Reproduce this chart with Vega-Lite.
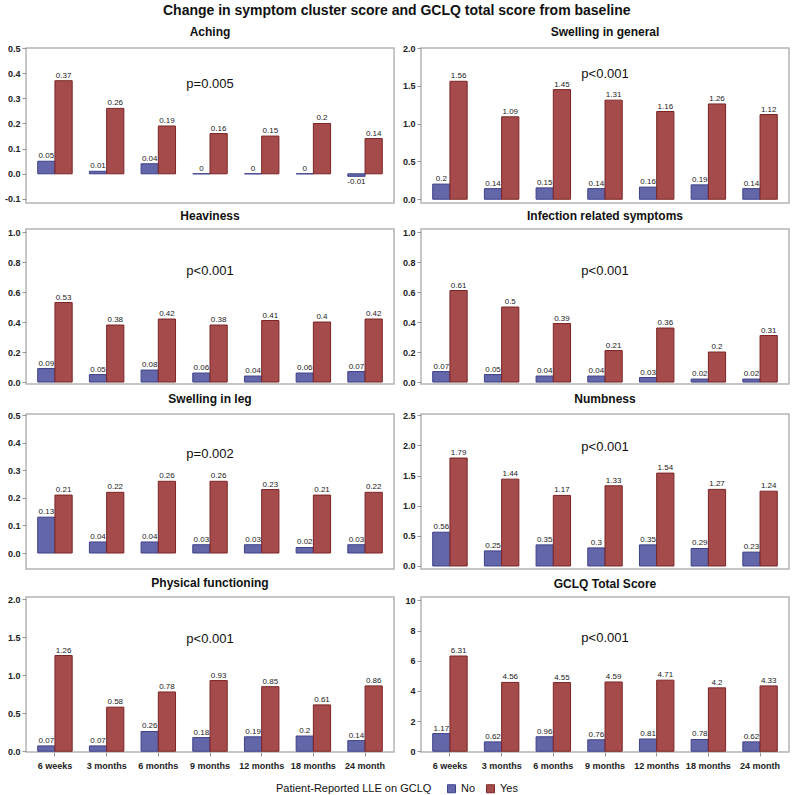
{
"$schema": "https://vega.github.io/schema/vega-lite/v6.json",
"padding": {"left": 3, "top": 4, "right": 8, "bottom": 2},
"background": "white",
"title": {"text": "Change in symptom cluster score and GCLQ total score from baseline", "fontSize": 14, "anchor": "middle", "offset": 7},
"datasets": {
"d": [
{"panel":"Aching","time":"6 weeks","group":"No","value":0.05},{"panel":"Aching","time":"6 weeks","group":"Yes","value":0.37},
{"panel":"Aching","time":"3 months","group":"No","value":0.01},{"panel":"Aching","time":"3 months","group":"Yes","value":0.26},
{"panel":"Aching","time":"6 months","group":"No","value":0.04},{"panel":"Aching","time":"6 months","group":"Yes","value":0.19},
{"panel":"Aching","time":"9 months","group":"No","value":0},{"panel":"Aching","time":"9 months","group":"Yes","value":0.16},
{"panel":"Aching","time":"12 months","group":"No","value":0},{"panel":"Aching","time":"12 months","group":"Yes","value":0.15},
{"panel":"Aching","time":"18 months","group":"No","value":0},{"panel":"Aching","time":"18 months","group":"Yes","value":0.2},
{"panel":"Aching","time":"24 month","group":"No","value":-0.01},{"panel":"Aching","time":"24 month","group":"Yes","value":0.14},
{"panel":"Swelling in general","time":"6 weeks","group":"No","value":0.2},{"panel":"Swelling in general","time":"6 weeks","group":"Yes","value":1.56},
{"panel":"Swelling in general","time":"3 months","group":"No","value":0.14},{"panel":"Swelling in general","time":"3 months","group":"Yes","value":1.09},
{"panel":"Swelling in general","time":"6 months","group":"No","value":0.15},{"panel":"Swelling in general","time":"6 months","group":"Yes","value":1.45},
{"panel":"Swelling in general","time":"9 months","group":"No","value":0.14},{"panel":"Swelling in general","time":"9 months","group":"Yes","value":1.31},
{"panel":"Swelling in general","time":"12 months","group":"No","value":0.16},{"panel":"Swelling in general","time":"12 months","group":"Yes","value":1.16},
{"panel":"Swelling in general","time":"18 months","group":"No","value":0.19},{"panel":"Swelling in general","time":"18 months","group":"Yes","value":1.26},
{"panel":"Swelling in general","time":"24 month","group":"No","value":0.14},{"panel":"Swelling in general","time":"24 month","group":"Yes","value":1.12},
{"panel":"Heaviness","time":"6 weeks","group":"No","value":0.09},{"panel":"Heaviness","time":"6 weeks","group":"Yes","value":0.53},
{"panel":"Heaviness","time":"3 months","group":"No","value":0.05},{"panel":"Heaviness","time":"3 months","group":"Yes","value":0.38},
{"panel":"Heaviness","time":"6 months","group":"No","value":0.08},{"panel":"Heaviness","time":"6 months","group":"Yes","value":0.42},
{"panel":"Heaviness","time":"9 months","group":"No","value":0.06},{"panel":"Heaviness","time":"9 months","group":"Yes","value":0.38},
{"panel":"Heaviness","time":"12 months","group":"No","value":0.04},{"panel":"Heaviness","time":"12 months","group":"Yes","value":0.41},
{"panel":"Heaviness","time":"18 months","group":"No","value":0.06},{"panel":"Heaviness","time":"18 months","group":"Yes","value":0.4},
{"panel":"Heaviness","time":"24 month","group":"No","value":0.07},{"panel":"Heaviness","time":"24 month","group":"Yes","value":0.42},
{"panel":"Infection related symptoms","time":"6 weeks","group":"No","value":0.07},{"panel":"Infection related symptoms","time":"6 weeks","group":"Yes","value":0.61},
{"panel":"Infection related symptoms","time":"3 months","group":"No","value":0.05},{"panel":"Infection related symptoms","time":"3 months","group":"Yes","value":0.5},
{"panel":"Infection related symptoms","time":"6 months","group":"No","value":0.04},{"panel":"Infection related symptoms","time":"6 months","group":"Yes","value":0.39},
{"panel":"Infection related symptoms","time":"9 months","group":"No","value":0.04},{"panel":"Infection related symptoms","time":"9 months","group":"Yes","value":0.21},
{"panel":"Infection related symptoms","time":"12 months","group":"No","value":0.03},{"panel":"Infection related symptoms","time":"12 months","group":"Yes","value":0.36},
{"panel":"Infection related symptoms","time":"18 months","group":"No","value":0.02},{"panel":"Infection related symptoms","time":"18 months","group":"Yes","value":0.2},
{"panel":"Infection related symptoms","time":"24 month","group":"No","value":0.02},{"panel":"Infection related symptoms","time":"24 month","group":"Yes","value":0.31},
{"panel":"Swelling in leg","time":"6 weeks","group":"No","value":0.13},{"panel":"Swelling in leg","time":"6 weeks","group":"Yes","value":0.21},
{"panel":"Swelling in leg","time":"3 months","group":"No","value":0.04},{"panel":"Swelling in leg","time":"3 months","group":"Yes","value":0.22},
{"panel":"Swelling in leg","time":"6 months","group":"No","value":0.04},{"panel":"Swelling in leg","time":"6 months","group":"Yes","value":0.26},
{"panel":"Swelling in leg","time":"9 months","group":"No","value":0.03},{"panel":"Swelling in leg","time":"9 months","group":"Yes","value":0.26},
{"panel":"Swelling in leg","time":"12 months","group":"No","value":0.03},{"panel":"Swelling in leg","time":"12 months","group":"Yes","value":0.23},
{"panel":"Swelling in leg","time":"18 months","group":"No","value":0.02},{"panel":"Swelling in leg","time":"18 months","group":"Yes","value":0.21},
{"panel":"Swelling in leg","time":"24 month","group":"No","value":0.03},{"panel":"Swelling in leg","time":"24 month","group":"Yes","value":0.22},
{"panel":"Numbness","time":"6 weeks","group":"No","value":0.56},{"panel":"Numbness","time":"6 weeks","group":"Yes","value":1.79},
{"panel":"Numbness","time":"3 months","group":"No","value":0.25},{"panel":"Numbness","time":"3 months","group":"Yes","value":1.44},
{"panel":"Numbness","time":"6 months","group":"No","value":0.35},{"panel":"Numbness","time":"6 months","group":"Yes","value":1.17},
{"panel":"Numbness","time":"9 months","group":"No","value":0.3},{"panel":"Numbness","time":"9 months","group":"Yes","value":1.33},
{"panel":"Numbness","time":"12 months","group":"No","value":0.35},{"panel":"Numbness","time":"12 months","group":"Yes","value":1.54},
{"panel":"Numbness","time":"18 months","group":"No","value":0.29},{"panel":"Numbness","time":"18 months","group":"Yes","value":1.27},
{"panel":"Numbness","time":"24 month","group":"No","value":0.23},{"panel":"Numbness","time":"24 month","group":"Yes","value":1.24},
{"panel":"Physical functioning","time":"6 weeks","group":"No","value":0.07},{"panel":"Physical functioning","time":"6 weeks","group":"Yes","value":1.26},
{"panel":"Physical functioning","time":"3 months","group":"No","value":0.07},{"panel":"Physical functioning","time":"3 months","group":"Yes","value":0.58},
{"panel":"Physical functioning","time":"6 months","group":"No","value":0.26},{"panel":"Physical functioning","time":"6 months","group":"Yes","value":0.78},
{"panel":"Physical functioning","time":"9 months","group":"No","value":0.18},{"panel":"Physical functioning","time":"9 months","group":"Yes","value":0.93},
{"panel":"Physical functioning","time":"12 months","group":"No","value":0.19},{"panel":"Physical functioning","time":"12 months","group":"Yes","value":0.85},
{"panel":"Physical functioning","time":"18 months","group":"No","value":0.2},{"panel":"Physical functioning","time":"18 months","group":"Yes","value":0.61},
{"panel":"Physical functioning","time":"24 month","group":"No","value":0.14},{"panel":"Physical functioning","time":"24 month","group":"Yes","value":0.86},
{"panel":"GCLQ Total Score","time":"6 weeks","group":"No","value":1.17},{"panel":"GCLQ Total Score","time":"6 weeks","group":"Yes","value":6.31},
{"panel":"GCLQ Total Score","time":"3 months","group":"No","value":0.62},{"panel":"GCLQ Total Score","time":"3 months","group":"Yes","value":4.56},
{"panel":"GCLQ Total Score","time":"6 months","group":"No","value":0.96},{"panel":"GCLQ Total Score","time":"6 months","group":"Yes","value":4.55},
{"panel":"GCLQ Total Score","time":"9 months","group":"No","value":0.76},{"panel":"GCLQ Total Score","time":"9 months","group":"Yes","value":4.59},
{"panel":"GCLQ Total Score","time":"12 months","group":"No","value":0.81},{"panel":"GCLQ Total Score","time":"12 months","group":"Yes","value":4.71},
{"panel":"GCLQ Total Score","time":"18 months","group":"No","value":0.78},{"panel":"GCLQ Total Score","time":"18 months","group":"Yes","value":4.2},
{"panel":"GCLQ Total Score","time":"24 month","group":"No","value":0.62},{"panel":"GCLQ Total Score","time":"24 month","group":"Yes","value":4.33}
],
"p": [
{"panel":"Aching","p":"p=0.005"},
{"panel":"Swelling in general","p":"p<0.001"},
{"panel":"Heaviness","p":"p<0.001"},
{"panel":"Infection related symptoms","p":"p<0.001"},
{"panel":"Swelling in leg","p":"p=0.002"},
{"panel":"Numbness","p":"p<0.001"},
{"panel":"Physical functioning","p":"p<0.001"},
{"panel":"GCLQ Total Score","p":"p<0.001"}
]
},
"columns": 2,
"spacing": {"row": 4, "column": 6},
"concat": [
{
"title": "Aching", "width": 368, "height": 155,
"layer": [
{"mark": {"type": "rule", "color": "#b0b0b0"}, "encoding": {"y": {"datum": 0, "type": "quantitative"}}},
{"data": {"name": "d"}, "transform": [{"filter": "datum.panel === 'Aching'"}],
 "mark": {"type": "bar", "strokeWidth": 1},
 "encoding": {
  "x": {"field": "time", "type": "nominal", "sort": ["6 weeks","3 months","6 months","9 months","12 months","18 months","24 month"], "scale": {"paddingInner": 0, "paddingOuter": 0.06}, "axis": null},
  "xOffset": {"field": "group", "type": "nominal", "scale": {"paddingInner": 0, "paddingOuter": 0.5}},
  "y": {"field": "value", "type": "quantitative", "scale": {"domain": [-0.116, 0.5], "nice": false, "zero": false}, "axis": {"title": null, "tickCount": 20, "labelOverlap": false, "values": [-0.1,0,0.1,0.2,0.3,0.4,0.5], "labelExpr": "datum.value < -0.001 ? '-' + format(-datum.value, '.1f') : format(datum.value, '.1f')"}},
  "fill": {"field": "group", "type": "nominal", "scale": {"domain": ["No","Yes"], "range": ["#6366a8","#a54b4b"]}, "legend": {"title": "Patient-Reported LLE on GCLQ"}},
  "stroke": {"field": "group", "type": "nominal", "scale": {"domain": ["No","Yes"], "range": ["#3e418a","#7d2424"]}, "legend": null}
 }},
{"data": {"name": "d"}, "transform": [{"filter": "datum.panel === 'Aching' && datum.value >= 0"}],
 "mark": {"type": "text", "baseline": "bottom", "dy": -1, "fontSize": 8, "color": "#222"},
 "encoding": {
  "x": {"field": "time", "type": "nominal", "sort": ["6 weeks","3 months","6 months","9 months","12 months","18 months","24 month"]},
  "xOffset": {"field": "group", "type": "nominal"},
  "y": {"field": "value", "type": "quantitative"},
  "text": {"field": "value", "type": "nominal"}
 }},
{"data": {"name": "d"}, "transform": [{"filter": "datum.panel === 'Aching' && datum.value < 0"}],
 "mark": {"type": "text", "baseline": "top", "dy": 2, "fontSize": 8, "color": "#222"},
 "encoding": {
  "x": {"field": "time", "type": "nominal", "sort": ["6 weeks","3 months","6 months","9 months","12 months","18 months","24 month"]},
  "xOffset": {"field": "group", "type": "nominal"},
  "y": {"field": "value", "type": "quantitative"},
  "text": {"field": "value", "type": "nominal"}
 }},
{"data": {"name": "p"}, "transform": [{"filter": "datum.panel === 'Aching'"}],
 "mark": {"type": "text", "fontSize": 13, "baseline": "middle", "color": "#111"},
 "encoding": {"x": {"datum": "9 months"}, "y": {"datum": 0.355}, "text": {"field": "p"}}}
]
},
{
"title": "Swelling in general", "width": 368, "height": 155,
"layer": [
{"mark": {"type": "rule", "color": "#b0b0b0"}, "encoding": {"y": {"datum": 0, "type": "quantitative"}}},
{"data": {"name": "d"}, "transform": [{"filter": "datum.panel === 'Swelling in general'"}],
 "mark": {"type": "bar", "strokeWidth": 1},
 "encoding": {
  "x": {"field": "time", "type": "nominal", "sort": ["6 weeks","3 months","6 months","9 months","12 months","18 months","24 month"], "scale": {"paddingInner": 0, "paddingOuter": 0.06}, "axis": null},
  "xOffset": {"field": "group", "type": "nominal", "scale": {"paddingInner": 0, "paddingOuter": 0.5}},
  "y": {"field": "value", "type": "quantitative", "scale": {"domain": [-0.05, 2.0], "nice": false, "zero": false}, "axis": {"title": null, "tickCount": 20, "labelOverlap": false, "values": [0,0.5,1,1.5,2], "format": ".1f"}},
  "fill": {"field": "group", "type": "nominal", "scale": {"domain": ["No","Yes"], "range": ["#6366a8","#a54b4b"]}, "legend": {"title": "Patient-Reported LLE on GCLQ"}},
  "stroke": {"field": "group", "type": "nominal", "scale": {"domain": ["No","Yes"], "range": ["#3e418a","#7d2424"]}, "legend": null}
 }},
{"data": {"name": "d"}, "transform": [{"filter": "datum.panel === 'Swelling in general'"}],
 "mark": {"type": "text", "baseline": "bottom", "dy": -1, "fontSize": 8, "color": "#222"},
 "encoding": {
  "x": {"field": "time", "type": "nominal", "sort": ["6 weeks","3 months","6 months","9 months","12 months","18 months","24 month"]},
  "xOffset": {"field": "group", "type": "nominal"},
  "y": {"field": "value", "type": "quantitative"},
  "text": {"field": "value", "type": "nominal"}
 }},
{"data": {"name": "p"}, "transform": [{"filter": "datum.panel === 'Swelling in general'"}],
 "mark": {"type": "text", "fontSize": 13, "baseline": "middle", "color": "#111"},
 "encoding": {"x": {"datum": "9 months"}, "y": {"datum": 1.66}, "text": {"field": "p"}}}
]
},
{
"title": "Heaviness", "width": 368, "height": 155,
"layer": [
{"mark": {"type": "rule", "color": "#b0b0b0"}, "encoding": {"y": {"datum": 0, "type": "quantitative"}}},
{"data": {"name": "d"}, "transform": [{"filter": "datum.panel === 'Heaviness'"}],
 "mark": {"type": "bar", "strokeWidth": 1},
 "encoding": {
  "x": {"field": "time", "type": "nominal", "sort": ["6 weeks","3 months","6 months","9 months","12 months","18 months","24 month"], "scale": {"paddingInner": 0, "paddingOuter": 0.06}, "axis": null},
  "xOffset": {"field": "group", "type": "nominal", "scale": {"paddingInner": 0, "paddingOuter": 0.5}},
  "y": {"field": "value", "type": "quantitative", "scale": {"domain": [-0.013, 1.02], "nice": false, "zero": false}, "axis": {"title": null, "tickCount": 20, "labelOverlap": false, "values": [0,0.2,0.4,0.6,0.8,1], "format": ".1f"}},
  "fill": {"field": "group", "type": "nominal", "scale": {"domain": ["No","Yes"], "range": ["#6366a8","#a54b4b"]}, "legend": {"title": "Patient-Reported LLE on GCLQ"}},
  "stroke": {"field": "group", "type": "nominal", "scale": {"domain": ["No","Yes"], "range": ["#3e418a","#7d2424"]}, "legend": null}
 }},
{"data": {"name": "d"}, "transform": [{"filter": "datum.panel === 'Heaviness'"}],
 "mark": {"type": "text", "baseline": "bottom", "dy": -1, "fontSize": 8, "color": "#222"},
 "encoding": {
  "x": {"field": "time", "type": "nominal", "sort": ["6 weeks","3 months","6 months","9 months","12 months","18 months","24 month"]},
  "xOffset": {"field": "group", "type": "nominal"},
  "y": {"field": "value", "type": "quantitative"},
  "text": {"field": "value", "type": "nominal"}
 }},
{"data": {"name": "p"}, "transform": [{"filter": "datum.panel === 'Heaviness'"}],
 "mark": {"type": "text", "fontSize": 13, "baseline": "middle", "color": "#111"},
 "encoding": {"x": {"datum": "9 months"}, "y": {"datum": 0.74}, "text": {"field": "p"}}}
]
},
{
"title": "Infection related symptoms", "width": 368, "height": 155,
"layer": [
{"mark": {"type": "rule", "color": "#b0b0b0"}, "encoding": {"y": {"datum": 0, "type": "quantitative"}}},
{"data": {"name": "d"}, "transform": [{"filter": "datum.panel === 'Infection related symptoms'"}],
 "mark": {"type": "bar", "strokeWidth": 1},
 "encoding": {
  "x": {"field": "time", "type": "nominal", "sort": ["6 weeks","3 months","6 months","9 months","12 months","18 months","24 month"], "scale": {"paddingInner": 0, "paddingOuter": 0.06}, "axis": null},
  "xOffset": {"field": "group", "type": "nominal", "scale": {"paddingInner": 0, "paddingOuter": 0.5}},
  "y": {"field": "value", "type": "quantitative", "scale": {"domain": [-0.013, 1.02], "nice": false, "zero": false}, "axis": {"title": null, "tickCount": 20, "labelOverlap": false, "values": [0,0.2,0.4,0.6,0.8,1], "format": ".1f"}},
  "fill": {"field": "group", "type": "nominal", "scale": {"domain": ["No","Yes"], "range": ["#6366a8","#a54b4b"]}, "legend": {"title": "Patient-Reported LLE on GCLQ"}},
  "stroke": {"field": "group", "type": "nominal", "scale": {"domain": ["No","Yes"], "range": ["#3e418a","#7d2424"]}, "legend": null}
 }},
{"data": {"name": "d"}, "transform": [{"filter": "datum.panel === 'Infection related symptoms'"}],
 "mark": {"type": "text", "baseline": "bottom", "dy": -1, "fontSize": 8, "color": "#222"},
 "encoding": {
  "x": {"field": "time", "type": "nominal", "sort": ["6 weeks","3 months","6 months","9 months","12 months","18 months","24 month"]},
  "xOffset": {"field": "group", "type": "nominal"},
  "y": {"field": "value", "type": "quantitative"},
  "text": {"field": "value", "type": "nominal"}
 }},
{"data": {"name": "p"}, "transform": [{"filter": "datum.panel === 'Infection related symptoms'"}],
 "mark": {"type": "text", "fontSize": 13, "baseline": "middle", "color": "#111"},
 "encoding": {"x": {"datum": "9 months"}, "y": {"datum": 0.74}, "text": {"field": "p"}}}
]
},
{
"title": "Swelling in leg", "width": 368, "height": 155,
"layer": [
{"mark": {"type": "rule", "color": "#b0b0b0"}, "encoding": {"y": {"datum": 0, "type": "quantitative"}}},
{"data": {"name": "d"}, "transform": [{"filter": "datum.panel === 'Swelling in leg'"}],
 "mark": {"type": "bar", "strokeWidth": 1},
 "encoding": {
  "x": {"field": "time", "type": "nominal", "sort": ["6 weeks","3 months","6 months","9 months","12 months","18 months","24 month"], "scale": {"paddingInner": 0, "paddingOuter": 0.06}, "axis": null},
  "xOffset": {"field": "group", "type": "nominal", "scale": {"paddingInner": 0, "paddingOuter": 0.5}},
  "y": {"field": "value", "type": "quantitative", "scale": {"domain": [-0.058, 0.504], "nice": false, "zero": false}, "axis": {"title": null, "tickCount": 20, "labelOverlap": false, "values": [0,0.1,0.2,0.3,0.4,0.5], "format": ".1f"}},
  "fill": {"field": "group", "type": "nominal", "scale": {"domain": ["No","Yes"], "range": ["#6366a8","#a54b4b"]}, "legend": {"title": "Patient-Reported LLE on GCLQ"}},
  "stroke": {"field": "group", "type": "nominal", "scale": {"domain": ["No","Yes"], "range": ["#3e418a","#7d2424"]}, "legend": null}
 }},
{"data": {"name": "d"}, "transform": [{"filter": "datum.panel === 'Swelling in leg'"}],
 "mark": {"type": "text", "baseline": "bottom", "dy": -1, "fontSize": 8, "color": "#222"},
 "encoding": {
  "x": {"field": "time", "type": "nominal", "sort": ["6 weeks","3 months","6 months","9 months","12 months","18 months","24 month"]},
  "xOffset": {"field": "group", "type": "nominal"},
  "y": {"field": "value", "type": "quantitative"},
  "text": {"field": "value", "type": "nominal"}
 }},
{"data": {"name": "p"}, "transform": [{"filter": "datum.panel === 'Swelling in leg'"}],
 "mark": {"type": "text", "fontSize": 13, "baseline": "middle", "color": "#111"},
 "encoding": {"x": {"datum": "9 months"}, "y": {"datum": 0.36}, "text": {"field": "p"}}}
]
},
{
"title": "Numbness", "width": 368, "height": 155,
"layer": [
{"mark": {"type": "rule", "color": "#b0b0b0"}, "encoding": {"y": {"datum": 0, "type": "quantitative"}}},
{"data": {"name": "d"}, "transform": [{"filter": "datum.panel === 'Numbness'"}],
 "mark": {"type": "bar", "strokeWidth": 1},
 "encoding": {
  "x": {"field": "time", "type": "nominal", "sort": ["6 weeks","3 months","6 months","9 months","12 months","18 months","24 month"], "scale": {"paddingInner": 0, "paddingOuter": 0.06}, "axis": null},
  "xOffset": {"field": "group", "type": "nominal", "scale": {"paddingInner": 0, "paddingOuter": 0.5}},
  "y": {"field": "value", "type": "quantitative", "scale": {"domain": [-0.05, 2.52], "nice": false, "zero": false}, "axis": {"title": null, "tickCount": 20, "labelOverlap": false, "values": [0,0.5,1,1.5,2,2.5], "format": ".1f"}},
  "fill": {"field": "group", "type": "nominal", "scale": {"domain": ["No","Yes"], "range": ["#6366a8","#a54b4b"]}, "legend": {"title": "Patient-Reported LLE on GCLQ"}},
  "stroke": {"field": "group", "type": "nominal", "scale": {"domain": ["No","Yes"], "range": ["#3e418a","#7d2424"]}, "legend": null}
 }},
{"data": {"name": "d"}, "transform": [{"filter": "datum.panel === 'Numbness'"}],
 "mark": {"type": "text", "baseline": "bottom", "dy": -1, "fontSize": 8, "color": "#222"},
 "encoding": {
  "x": {"field": "time", "type": "nominal", "sort": ["6 weeks","3 months","6 months","9 months","12 months","18 months","24 month"]},
  "xOffset": {"field": "group", "type": "nominal"},
  "y": {"field": "value", "type": "quantitative"},
  "text": {"field": "value", "type": "nominal"}
 }},
{"data": {"name": "p"}, "transform": [{"filter": "datum.panel === 'Numbness'"}],
 "mark": {"type": "text", "fontSize": 13, "baseline": "middle", "color": "#111"},
 "encoding": {"x": {"datum": "9 months"}, "y": {"datum": 1.97}, "text": {"field": "p"}}}
]
},
{
"title": "Physical functioning", "width": 368, "height": 155,
"layer": [
{"mark": {"type": "rule", "color": "#b0b0b0"}, "encoding": {"y": {"datum": 0, "type": "quantitative"}}},
{"data": {"name": "d"}, "transform": [{"filter": "datum.panel === 'Physical functioning'"}],
 "mark": {"type": "bar", "strokeWidth": 1},
 "encoding": {
  "x": {"field": "time", "type": "nominal", "sort": ["6 weeks","3 months","6 months","9 months","12 months","18 months","24 month"], "scale": {"paddingInner": 0, "paddingOuter": 0.06}, "axis": {"title": null, "labelAngle": 0, "labelOverlap": false, "domain": false, "tickSize": 4, "labelPadding": 5}},
  "xOffset": {"field": "group", "type": "nominal", "scale": {"paddingInner": 0, "paddingOuter": 0.5}},
  "y": {"field": "value", "type": "quantitative", "scale": {"domain": [-0.01, 2.03], "nice": false, "zero": false}, "axis": {"title": null, "tickCount": 20, "labelOverlap": false, "values": [0,0.5,1,1.5,2], "format": ".1f"}},
  "fill": {"field": "group", "type": "nominal", "scale": {"domain": ["No","Yes"], "range": ["#6366a8","#a54b4b"]}, "legend": {"title": "Patient-Reported LLE on GCLQ"}},
  "stroke": {"field": "group", "type": "nominal", "scale": {"domain": ["No","Yes"], "range": ["#3e418a","#7d2424"]}, "legend": null}
 }},
{"data": {"name": "d"}, "transform": [{"filter": "datum.panel === 'Physical functioning'"}],
 "mark": {"type": "text", "baseline": "bottom", "dy": -1, "fontSize": 8, "color": "#222"},
 "encoding": {
  "x": {"field": "time", "type": "nominal", "sort": ["6 weeks","3 months","6 months","9 months","12 months","18 months","24 month"]},
  "xOffset": {"field": "group", "type": "nominal"},
  "y": {"field": "value", "type": "quantitative"},
  "text": {"field": "value", "type": "nominal"}
 }},
{"data": {"name": "p"}, "transform": [{"filter": "datum.panel === 'Physical functioning'"}],
 "mark": {"type": "text", "fontSize": 13, "baseline": "middle", "color": "#111"},
 "encoding": {"x": {"datum": "9 months"}, "y": {"datum": 1.48}, "text": {"field": "p"}}}
]
},
{
"title": "GCLQ Total Score", "width": 368, "height": 155,
"layer": [
{"mark": {"type": "rule", "color": "#b0b0b0"}, "encoding": {"y": {"datum": 0, "type": "quantitative"}}},
{"data": {"name": "d"}, "transform": [{"filter": "datum.panel === 'GCLQ Total Score'"}],
 "mark": {"type": "bar", "strokeWidth": 1},
 "encoding": {
  "x": {"field": "time", "type": "nominal", "sort": ["6 weeks","3 months","6 months","9 months","12 months","18 months","24 month"], "scale": {"paddingInner": 0, "paddingOuter": 0.06}, "axis": {"title": null, "labelAngle": 0, "labelOverlap": false, "domain": false, "tickSize": 4, "labelPadding": 5}},
  "xOffset": {"field": "group", "type": "nominal", "scale": {"paddingInner": 0, "paddingOuter": 0.5}},
  "y": {"field": "value", "type": "quantitative", "scale": {"domain": [-0.05, 10.22], "nice": false, "zero": false}, "axis": {"title": null, "tickCount": 20, "labelOverlap": false, "values": [0,2,4,6,8,10], "format": "d"}},
  "fill": {"field": "group", "type": "nominal", "scale": {"domain": ["No","Yes"], "range": ["#6366a8","#a54b4b"]}, "legend": {"title": "Patient-Reported LLE on GCLQ"}},
  "stroke": {"field": "group", "type": "nominal", "scale": {"domain": ["No","Yes"], "range": ["#3e418a","#7d2424"]}, "legend": null}
 }},
{"data": {"name": "d"}, "transform": [{"filter": "datum.panel === 'GCLQ Total Score'"}],
 "mark": {"type": "text", "baseline": "bottom", "dy": -1, "fontSize": 8, "color": "#222"},
 "encoding": {
  "x": {"field": "time", "type": "nominal", "sort": ["6 weeks","3 months","6 months","9 months","12 months","18 months","24 month"]},
  "xOffset": {"field": "group", "type": "nominal"},
  "y": {"field": "value", "type": "quantitative"},
  "text": {"field": "value", "type": "nominal"}
 }},
{"data": {"name": "p"}, "transform": [{"filter": "datum.panel === 'GCLQ Total Score'"}],
 "mark": {"type": "text", "fontSize": 13, "baseline": "middle", "color": "#111"},
 "encoding": {"x": {"datum": "9 months"}, "y": {"datum": 7.5}, "text": {"field": "p"}}}
]
}
],
"config": {
 "font": "Liberation Sans",
 "view": {"stroke": "#b4b4b4", "strokeWidth": 1.5},
 "axis": {"labelFontSize": 9, "labelFontWeight": "bold", "labelColor": "#222", "tickColor": "#999", "tickSize": 4, "domain": false, "grid": false, "labelPadding": 2, "labelOverlap": false, "labelFlush": false},
 "title": {"fontSize": 12, "fontWeight": "bold", "offset": 5, "color": "#111"},
 "legend": {"orient": "bottom", "direction": "horizontal", "titleOrient": "left", "titleFontSize": 11, "titleFontWeight": "normal", "titleColor": "#111", "labelFontSize": 11, "labelColor": "#111", "symbolType": "square", "symbolSize": 64, "symbolStrokeWidth": 1, "columnPadding": 8, "titlePadding": 14, "offset": 12, "layout": {"bottom": {"anchor": "middle"}}}
}
}
